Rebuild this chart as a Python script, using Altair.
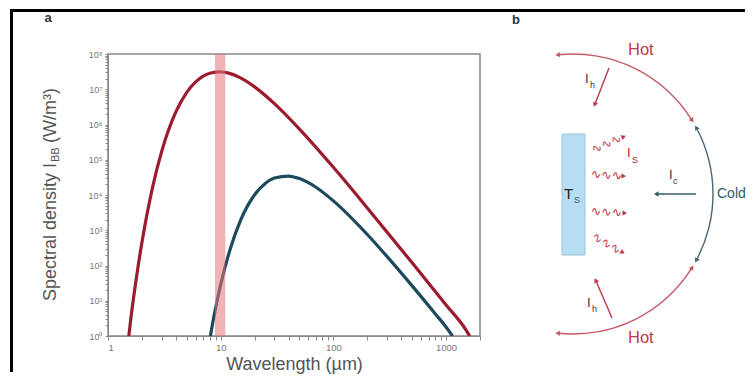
import math
import altair as alt
import pandas as pd

FONT = "Liberation Sans"

# ---------------- panel a data ----------------
red_wl = [1.53, 1.6, 1.8, 2, 2.5, 3, 4, 5, 6, 7, 8, 10, 12, 15, 20, 30, 50, 100, 200, 500, 1000, 1500, 1620]
red_I = [1.0, 3.4, 53, 450, 1.79e4, 1.76e5, 2.27e6, 8.2e6, 1.62e7, 2.36e7, 2.85e7, 3.12e7, 2.82e7,
         2.10e7, 1.17e7, 3.9e6, 7.4e5, 6.1e4, 4.3e3, 119, 7.6, 1.5, 1.0]
blue_wl = [8.1, 8.5, 9, 10, 12, 15, 20, 25, 30, 40, 50, 70, 100, 200, 300, 500, 800, 1000, 1140]
blue_I = [1.0, 2.4, 6.1, 28.6, 259, 1.91e3, 1.02e4, 2.17e4, 3.04e4, 3.45e4, 2.92e4, 1.66e4, 6.8e3,
          756, 178, 26.4, 4.3, 1.8, 1.0]
band_lo = [8.9]
band_hi = [11.0]
x_ticks = [m * 10 ** k for k in range(4) for m in range(1, 10) if m * 10 ** k <= 2000]
y_ticks = [m * 10 ** k for k in range(9) for m in range(1, 10) if m * 10 ** k <= 1e8]

RED = "#9c1b2e"
BLUE = "#1d4a5c"

W_A, H_A = 372, 282

curves = pd.concat([
    pd.DataFrame({"wl": red_wl, "I": red_I, "s": "hot"}),
    pd.DataFrame({"wl": blue_wl, "I": blue_I, "s": "cold"}),
])
band = pd.DataFrame({"lo": band_lo, "hi": band_hi})
one = pd.DataFrame({"k": [0]})

xs = alt.Scale(type="log", domain=[1, 2000], nice=False)
ys = alt.Scale(type="log", domain=[1, 1e8], nice=False)

x_axis = alt.Axis(
    values=x_ticks,
    labelExpr="abs(log(datum.value)/LN10 - round(log(datum.value)/LN10)) < 0.001 ? format(datum.value, 'd') : ''",
    labelOverlap=False, grid=False, tickSize=4, tickColor="#888", domainColor="#888",
    labelFont=FONT, labelFontSize=9.5, labelColor="#777", labelPadding=2,
    title="Wavelength (µm)", titleFont=FONT, titleFontSize=18, titleFontWeight="normal",
    titleColor="#555", titlePadding=4,
)
y_axis = alt.Axis(
    values=y_ticks,
    labelExpr="abs(log(datum.value)/LN10 - round(log(datum.value)/LN10)) < 0.001 ? '10' + ['⁰','¹','²','³','⁴','⁵','⁶','⁷','⁸'][round(log(datum.value)/LN10)] : ''",
    labelOverlap=False, grid=False, tickSize=3, tickColor="#888", domainColor="#888",
    labelFont=FONT, labelFontSize=9, labelColor="#777", labelPadding=3, title="",
)

lines = alt.Chart(curves).mark_line(strokeWidth=3.2, interpolate="monotone", clip=True).encode(
    x=alt.X("wl:Q", scale=xs, axis=x_axis),
    y=alt.Y("I:Q", scale=ys, axis=y_axis),
    color=alt.Color("s:N", scale=alt.Scale(domain=["hot", "cold"], range=[RED, BLUE]), legend=None),
    detail="s:N",
)
band_layer = alt.Chart(band).mark_rect(color="#e8747c", opacity=0.55).encode(
    x=alt.X("lo:Q", scale=xs, axis=x_axis), x2="hi:Q",
    y=alt.value(0), y2=alt.value(H_A),
)

ytitle1 = alt.Chart(one).mark_text(text="Spectral density I", angle=270, align="right", baseline="middle",
                                    font=FONT, fontSize=18, color="#555").encode(
    x=alt.value(-57), y=alt.value(109))
ytitle2 = alt.Chart(one).mark_text(text="BB", angle=270, align="left", baseline="middle",
                                    font=FONT, fontSize=11, color="#555").encode(
    x=alt.value(-52), y=alt.value(108))
ytitle3 = alt.Chart(one).mark_text(text="(W/m³)", angle=270, align="left", baseline="middle",
                                    font=FONT, fontSize=18, color="#555").encode(
    x=alt.value(-57), y=alt.value(89))
label_a = alt.Chart(one).mark_text(text="a", align="center", baseline="middle", font=FONT,
                                    fontSize=13, fontWeight="bold", color="#333").encode(
    x=alt.value(-60), y=alt.value(-36))
frame_left = alt.Chart(one).mark_rect(color="black").encode(
    x=alt.value(-98), x2=alt.value(-95), y=alt.value(-45), y2=alt.value(318))
frame_top = alt.Chart(one).mark_rect(color="black").encode(
    x=alt.value(-98), x2=alt.value(637), y=alt.value(-45), y2=alt.value(-42))

panel_a = alt.layer(lines, band_layer, ytitle1, ytitle2, ytitle3, label_a, frame_left, frame_top).properties(
    width=W_A, height=H_A,
    view=alt.ViewBackground(stroke="#888", strokeWidth=1.5),
)

# ---------------- panel b (diagram) ----------------
W_B = 246
bx = alt.Scale(domain=[499, 499 + W_B], nice=False, zero=False)
by = alt.Scale(domain=[53 + H_A, 53], nice=False, zero=False)

HOT = "#c0394a"
HOT_ARC = "#c25a66"
COLD = "#2f5b6b"
COLD_ARC = "#4a6573"

arc_cx, arc_cy, arc_r = 572, 193, 140
arc_start = [-6, 62, 122]
arc_end = [58, 118, 186]
arc_col = [HOT_ARC, COLD_ARC, HOT_ARC]

arcs = pd.DataFrame({
    "cx": [arc_cx] * 3, "cy": [arc_cy] * 3,
    "t1": [math.radians(a if a >= 0 else a + 360) for a in arc_start],
    "t2": [math.radians((e if s >= 0 else e + 360)) for s, e in zip(arc_start, arc_end)],
    "col": arc_col,
})


def on_arc(th):
    r = math.radians(th)
    return arc_cx + arc_r * math.sin(r), arc_cy - arc_r * math.cos(r)


heads = []
for s, e, c in zip(arc_start, arc_end, arc_col):
    x, y = on_arc(s)
    heads.append({"x": x, "y": y, "a": (270 + s) % 360, "col": c})
    x, y = on_arc(e)
    heads.append({"x": x, "y": y, "a": (90 + e) % 360, "col": c})

# straight arrows: start x, start y, end x, end y
arr_x1 = [608, 611, 695]
arr_y1 = [67, 317, 193]
arr_x2 = [594, 595, 656]
arr_y2 = [103, 280, 193]
arr_col = [HOT, HOT, COLD]
arrows = pd.DataFrame({"x1": arr_x1, "y1": arr_y1, "x2": arr_x2, "y2": arr_y2, "col": arr_col})
for x1, y1, x2, y2, c in zip(arr_x1, arr_y1, arr_x2, arr_y2, arr_col):
    heads.append({"x": x2, "y": y2, "a": math.degrees(math.atan2(x2 - x1, -(y2 - y1))) % 360, "col": c})

# wavy emission arrows: start and end points
wv_x1 = [591, 591, 590, 592]
wv_y1 = [150, 173, 210, 234]
wv_x2 = [622, 622, 623, 621]
wv_y2 = [136, 175, 212, 251]
wavy = pd.DataFrame({
    "x": [(a + b) / 2 - 1 for a, b in zip(wv_x1, wv_x2)],
    "y": [(a + b) / 2 for a, b in zip(wv_y1, wv_y2)],
    "ang": [math.degrees(math.atan2(y2 - y1, x2 - x1)) % 360 for x1, y1, x2, y2 in zip(wv_x1, wv_y1, wv_x2, wv_y2)],
})
for x1, y1, x2, y2 in zip(wv_x1, wv_y1, wv_x2, wv_y2):
    heads.append({"x": x2, "y": y2, "a": math.degrees(math.atan2(x2 - x1, -(y2 - y1))) % 360, "col": HOT})
heads = pd.DataFrame(heads)

rect = pd.DataFrame({"x": [561], "x2": [584], "y": [133], "y2": [254]})

lab_text = ["Hot", "Hot", "Cold", "I", "I", "I", "I", "T"]
lab_x = [627, 627, 716, 584, 626, 668, 586, 563]
lab_y = [49, 337, 193, 78, 152, 174, 302, 193]
lab_col = [HOT, HOT, COLD, "#333", "#a8283a", "#333", "#333", "#222"]
lab_size = [16.5, 16.5, 14, 13, 13, 13, 13, 15]
labels = pd.DataFrame({"t": lab_text, "x": lab_x, "y": lab_y, "col": lab_col, "fs": lab_size})

sub_text = ["h", "S", "c", "h", "S"]
sub_x = [589, 631, 672, 591, 573]
sub_y = [84, 159, 180, 308, 199]
sub_col = ["#333", "#a8283a", "#333", "#333", "#555"]
subs = pd.DataFrame({"t": sub_text, "x": sub_x, "y": sub_y, "col": sub_col})


def bX(f):
    return alt.X(f, scale=bx, axis=None)


def bY(f):
    return alt.Y(f, scale=by, axis=None)


arc_layer = alt.Chart(arcs).mark_arc(radius=arc_r + 0.7, radius2=arc_r - 0.7).encode(
    x=bX("cx:Q"), y=bY("cy:Q"),
    theta=alt.Theta("t1:Q", scale=None), theta2="t2:Q",
    color=alt.Color("col:N", scale=None),
)
arrow_layer = alt.Chart(arrows).mark_rule(strokeWidth=1.4).encode(
    x=bX("x1:Q"), y=bY("y1:Q"), x2="x2:Q", y2="y2:Q", color=alt.Color("col:N", scale=None))
head_layer = alt.Chart(heads).mark_point(shape="triangle", filled=True, size=28, opacity=1).encode(
    x=bX("x:Q"), y=bY("y:Q"), angle=alt.Angle("a:Q", scale=None), color=alt.Color("col:N", scale=None))
wavy_layer = alt.Chart(wavy).mark_text(text="∿∿∿", font="DejaVu Sans", fontSize=12.5, color=HOT,
                                       baseline="middle", align="center").encode(
    x=bX("x:Q"), y=bY("y:Q"), angle=alt.Angle("ang:Q", scale=None))
rect_layer = alt.Chart(rect).mark_rect(fill="#b7ddf4", stroke="#9ec3d8", strokeWidth=1).encode(
    x=bX("x:Q"), x2="x2:Q", y=bY("y:Q"), y2="y2:Q")
label_layer = alt.Chart(labels).mark_text(font=FONT, align="left", baseline="middle").encode(
    x=bX("x:Q"), y=bY("y:Q"), text="t:N", color=alt.Color("col:N", scale=None),
    size=alt.Size("fs:Q", scale=None))
sub_layer = alt.Chart(subs).mark_text(font=FONT, fontSize=9, align="left", baseline="middle").encode(
    x=bX("x:Q"), y=bY("y:Q"), text="t:N", color=alt.Color("col:N", scale=None))
label_b = alt.Chart(pd.DataFrame({"t": ["b"], "x": [511], "y": [19]})).mark_text(
    font=FONT, fontSize=13, fontWeight="bold", color="#333", align="left", baseline="middle").encode(
    x=bX("x:Q"), y=bY("y:Q"), text="t:N")

panel_b = alt.layer(rect_layer, arc_layer, arrow_layer, wavy_layer, head_layer, label_layer, sub_layer,
                    label_b).properties(
    width=W_B, height=H_A,
    view=alt.ViewBackground(strokeOpacity=0),
)

chart = alt.hconcat(panel_a, panel_b, spacing=20, bounds="flush",
                    padding={"left": 1, "top": 0, "right": 0, "bottom": 0}).resolve_scale(
    x="independent", y="independent", color="independent")

chart.save("out.html", embed_options={"renderer": "svg", "actions": False})
